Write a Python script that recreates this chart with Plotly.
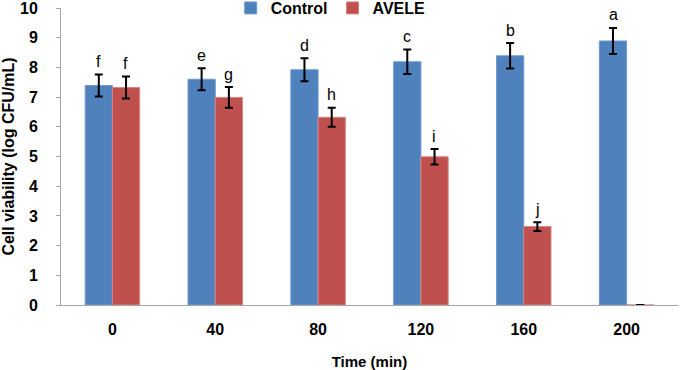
import plotly.graph_objects as go

categories = ["0", "40", "80", "120", "160", "200"]
control = [7.39, 7.60, 7.92, 8.19, 8.39, 8.89]
control_err = [0.37, 0.37, 0.39, 0.41, 0.43, 0.44]
avele = [7.32, 6.99, 6.32, 4.99, 2.64, 0]
avele_err = [0.37, 0.35, 0.32, 0.26, 0.15, 0]
control_letters = ["f", "e", "d", "c", "b", "a"]
avele_letters = ["f", "g", "h", "i", "j", ""]

fig = go.Figure()
fig.add_trace(go.Bar(
    name="Control", x=categories, y=control,
    marker=dict(color="#4F81BD", line=dict(color="#6F9BD1", width=1)),
    error_y=dict(type="data", array=control_err, color="black", thickness=2, width=4),
))
fig.add_trace(go.Bar(
    name="AVELE", x=categories, y=avele,
    marker=dict(color="#C0504D", line=dict(color="#D98482", width=1)),
    error_y=dict(type="data", array=avele_err, color="black", thickness=2, width=4),
))

annotations = []
for i, c in enumerate(categories):
    annotations.append(dict(x=i, y=control[i] + control_err[i], text=control_letters[i],
                            xref="x", yref="y", showarrow=False, xshift=-13.5, yshift=13,
                            font=dict(family="Liberation Sans, Arial", size=16, color="black")))
    if avele_letters[i]:
        annotations.append(dict(x=i, y=avele[i] + avele_err[i], text=avele_letters[i],
                                xref="x", yref="y", showarrow=False, xshift=13.5, yshift=13,
                                font=dict(family="Liberation Sans, Arial", size=16, color="black")))

fig.update_layout(
    width=680, height=370,
    margin=dict(l=61, r=2, t=8, b=65, autoexpand=False),
    paper_bgcolor="white", plot_bgcolor="white",
    barmode="group", bargap=0.47, bargroupgap=0,
    font=dict(family="Liberation Sans, Arial", size=15, color="black"),
    legend=dict(orientation="h", x=0.275, xanchor="left", y=1.0, yanchor="middle",
                font=dict(size=16, family="Liberation Sans, Arial", weight="bold"),
                itemwidth=30, bgcolor="rgba(0,0,0,0)", traceorder="normal"),
    annotations=annotations,
    xaxis=dict(
        type="category", range=[-0.5, 5.5],
        showline=True, linecolor="#A6A6A6", linewidth=1, ticks="", showgrid=False,
        ticklabelstandoff=10,
        tickfont=dict(size=16, weight="bold"),
        title=dict(text="Time (min)", font=dict(size=15, weight="bold"), standoff=20),
    ),
    yaxis=dict(
        range=[0, 10], dtick=1, showline=True, linecolor="#A6A6A6", linewidth=1,
        ticks="outside", ticklen=4, tickcolor="#A6A6A6", showgrid=False, zeroline=False,
        ticklabelstandoff=15, ticklabeloverflow="allow",
        tickfont=dict(size=16, weight="bold"),
        title=dict(text="Cell viability (log CFU/mL)", font=dict(size=16, weight="bold"), standoff=3),
    ),
)

fig.write_html("out.html", config={"displayModeBar": False},
               post_script="document.body.style.margin='0';document.body.style.padding='0';")
